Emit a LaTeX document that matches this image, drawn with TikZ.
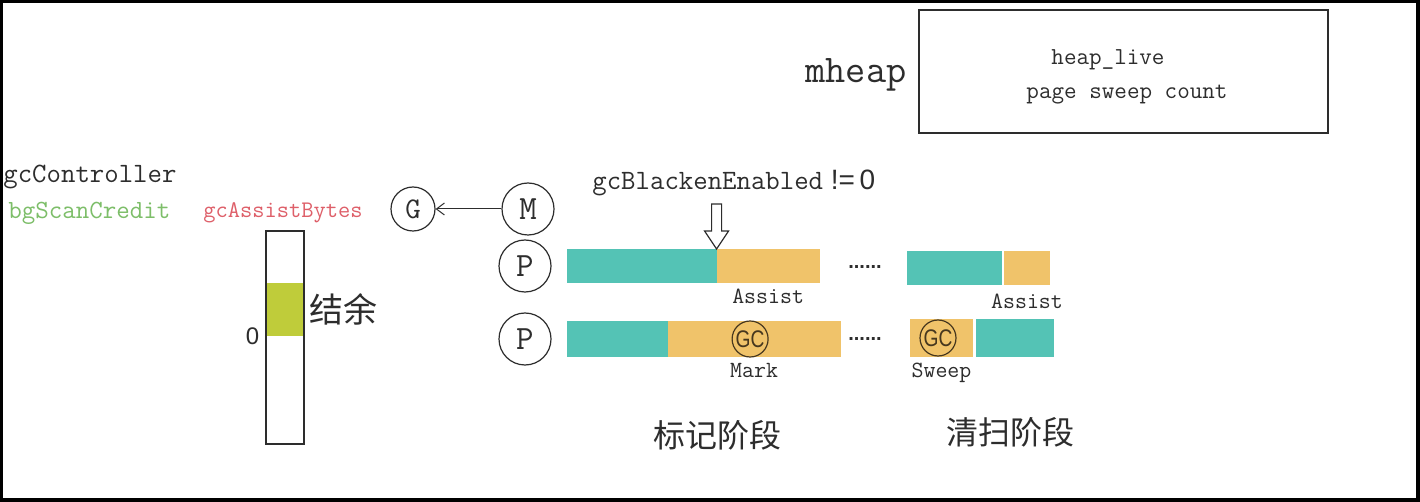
\documentclass[tikz,border=0pt]{standalone}
\usepackage{fontspec}
\setsansfont{Liberation Sans}
\newfontfamily\cjk{Noto Sans CJK SC}
\newfontfamily\gcfont{Liberation Sans}[FakeStretch=0.8]
\usetikzlibrary{arrows.meta,positioning}
\definecolor{barteal}{RGB}{84,195,181}
\definecolor{barorange}{RGB}{240,195,106}
\definecolor{creditgreen}{RGB}{191,204,58}
\definecolor{scangreen}{RGB}{125,190,105}
\definecolor{assistred}{RGB}{222,95,105}
\definecolor{inkgray}{RGB}{45,45,45}
\definecolor{gcbrown}{RGB}{70,55,30}

\begin{document}
\begin{tikzpicture}[
    x=0.5pt, y=-0.5pt,
    node distance=7.5pt,
    mono/.style={font=\ttfamily\fontsize{#1}{#1}\selectfont, text=inkgray, inner sep=0pt},
    cn/.style={font=\cjk\fontsize{#1}{#1}\selectfont, text=inkgray, inner sep=0pt},
    pnode/.style={circle, draw=inkgray, line width=0.6pt, minimum size=26pt, inner sep=0pt, font=\ttfamily\fontsize{17}{17}\selectfont, text=inkgray},
    seg/.style={rectangle, inner sep=0pt, outer sep=0pt, minimum height=17pt},
    gcmark/.style={circle, draw=gcbrown, line width=0.6pt, minimum size=18pt, inner sep=0pt, font=\gcfont\fontsize{12}{12}\selectfont, text=gcbrown},
    dots/.style={font=\sffamily\bfseries\fontsize{10}{10}\selectfont, text=inkgray, inner sep=0pt}
]
% frame
\fill[black] (0,0) rectangle (1420,502);
\fill[white] (3,3) rectangle (1416,498);
\useasboundingbox (0,0) rectangle (1420,502);

% mheap
\node[mono=19.6] (mheaplabel) at (856,75) {mheap};
\node[draw=inkgray, line width=0.7pt, minimum width=204.5pt, minimum height=61.5pt, inner sep=0pt] (mheap) at (1123.5,71.5) {};
\node[mono=12.2] (heaplive) at (1108,60) {heap\_live};
\node[mono=12.2] (sweepcount) at (1127,95) {page sweep count};

% gcController
\node[mono=14, anchor=west] (controller) at (3,177) {gcController};
\node[mono=13.1, text=scangreen, anchor=west] (scancredit) at (8,213) {bgScanCredit};
\node[mono=11.9, text=assistred, anchor=west] (assistbytes) at (203,213) {gcAssistBytes};
\node[fill=creditgreen, minimum width=18pt, minimum height=26.5pt, inner sep=0pt] (surplus) at (285,309.5) {};
\node[draw=inkgray, line width=0.8pt, minimum width=19pt, minimum height=106.5pt, inner sep=0pt] (creditbar) at (285,337.5) {};
\node[cn=17, right=3pt of surplus] (surpluslabel) {结余};
\node[font=\sffamily\fontsize{12}{12}\selectfont, text=inkgray, inner sep=0pt, left=3.5pt of surplus.south west] (zero) {0};

% G M P
\node[pnode, minimum size=22pt, font=\ttfamily\fontsize{15}{15}\selectfont] (G) at (413,209) {G};
\node[pnode] (M) at (528,209) {M};
\node[pnode] (P1) at (525,266) {P};
\node[pnode] (P2) at (525,339) {P};
\draw[-{Straight Barb[length=4pt,width=6pt]}, line width=0.5pt, inkgray] (M) -- (G);

% mark phase
\node[seg, fill=barteal, minimum width=75pt, right=7.5pt of P1] (mutator1) {};
\node[seg, fill=barorange, minimum width=51.5pt, right=0pt of mutator1] (assist1) {};
\node[mono=11.6, below=3pt of assist1] (assistlabel1) {Assist};
\node[seg, minimum height=18pt, fill=barteal, minimum width=50.5pt, right=7.5pt of P2] (mutator2) {};
\node[seg, minimum height=18pt, fill=barorange, minimum width=86.5pt, right=0pt of mutator2] (markwork) {};
\node[gcmark] (gcmark1) at ([xshift=-2pt]markwork.center) {GC};
\node[mono=11.6, below=3pt of markwork] (marklabel) {Mark};

\node[anchor=base west, inner sep=0pt, text=inkgray] (blacken) at (592,190)
    {\ttfamily\fontsize{14}{14}\selectfont gcBlackenEnabled\sffamily\ !=\,0};
\draw[line width=0.6pt, draw=inkgray, fill=white] (mutator1.north east)
    -- ++(-12,-18) -- ++(7,0) -- ++(0,-27) -- ++(10,0) -- ++(0,27) -- ++(7,0) -- cycle;

\node[dots] (gap1) at (865,267) {......};
\node[dots] (gap2) at (865,339) {......};

% sweep phase
\node[seg, fill=barteal, minimum width=47.5pt, anchor=west] (mutator3) at (907,268.5) {};
\node[seg, fill=barorange, minimum width=23pt, right=1pt of mutator3] (assist3) {};
\node[mono=11.6, below=4pt of assist3] (assistlabel3) {Assist};
\node[seg, minimum height=19pt, fill=barorange, minimum width=31.5pt, anchor=west] (sweepwork) at (910,338) {};
\node[seg, minimum height=19pt, fill=barteal, minimum width=39pt, right=1.5pt of sweepwork] (mutator4) {};
\node[gcmark] (gcmark2) at ([xshift=-1.75pt]sweepwork.center) {GC};
\node[mono=11.6, below=3pt of sweepwork] (sweeplabel) {Sweep};

\node[cn=16] (markphase) at (717,435) {标记阶段};
\node[cn=16] (sweepphase) at (1010,432) {清扫阶段};
\end{tikzpicture}
\end{document}
